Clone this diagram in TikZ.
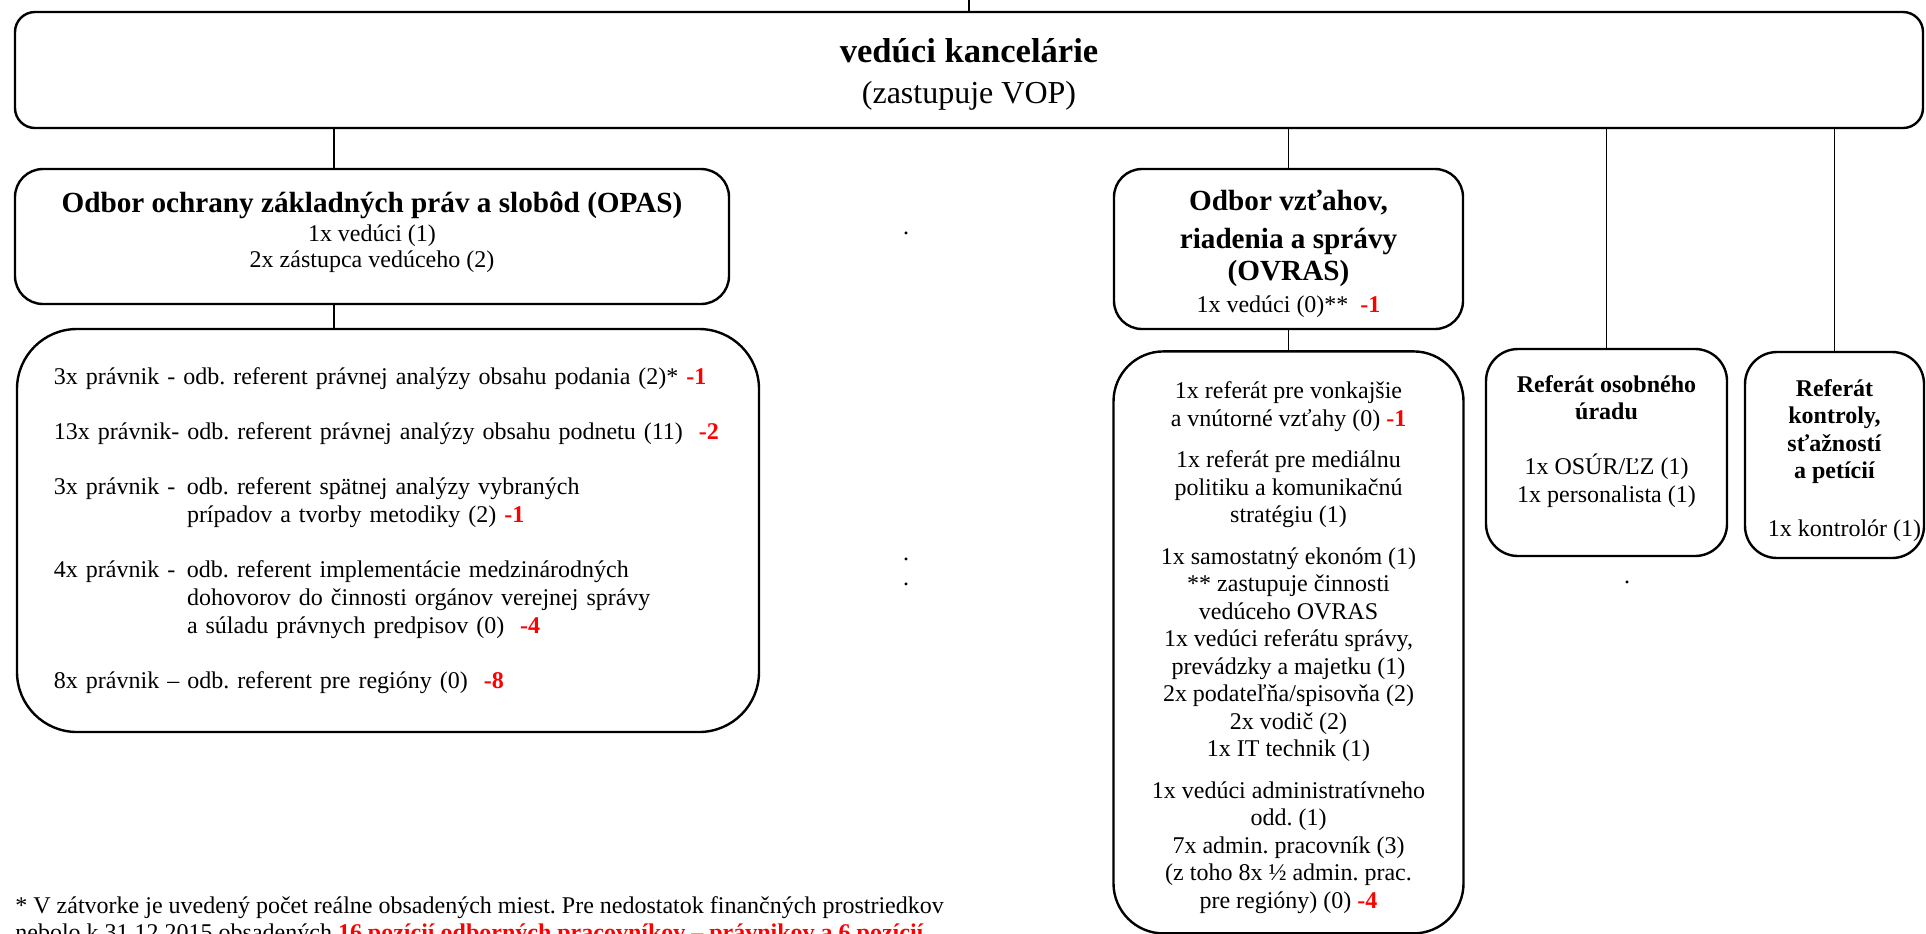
\documentclass[tikz,border=0pt]{standalone}
\usepackage{fontspec}
\setmainfont{Liberation Serif}
\usetikzlibrary{positioning}
\definecolor{Deficit}{HTML}{FF0000}
\definecolor{Ink}{HTML}{000000}
\newcommand{\deficit}[1]{\mbox{\textcolor{Deficit}{\textbf{#1}}}}
\newcommand{\lift}[1]{\rule{0pt}{#1}}
\newcommand{\sink}[1]{\rule[-#1]{0pt}{#1}}
\tikzset{
  headbox/.style={rectangle, rounded corners=10pt, minimum width=954pt,
    minimum height=58pt, align=center, draw=Ink, line width=1.2pt,
    inner sep=0pt, font=\fontsize{16}{18.5}\selectfont},
  deptbox/.style={rectangle, rounded corners=14pt, align=center, draw=Ink,
    line width=1.2pt, inner sep=0pt, font=\fontsize{12}{13}\selectfont},
  listbox/.style={rectangle, rounded corners=30pt, align=left, draw=Ink,
    line width=1.2pt, inner xsep=18.5pt, inner ysep=0pt,
    font=\fontsize{12}{13.85}\selectfont},
  refbox/.style={rectangle, rounded corners=16pt, align=center, draw=Ink,
    line width=1.2pt, inner sep=0pt, font=\fontsize{12}{13.75}\selectfont},
  link/.style={draw=Ink, line width=0.75pt},
  note/.style={align=left, inner sep=0pt, font=\fontsize{12}{13.75}\selectfont},
  stray/.style={inner sep=0pt, font=\fontsize{12}{13.75}\selectfont},
}

\begin{document}
\frenchspacing
\begin{tikzpicture}[x=0.5pt, y=-0.5pt, node distance=10pt]
  \useasboundingbox (0,0) rectangle (1926,933);

  \node (vop)      [headbox] at (969,70)
    {\lift{16pt}{\fontsize{17.3}{18.5}\selectfont\bfseries vedúci kancelárie}\\[2pt](zastupuje VOP)};
  \node (opas)     [deptbox, minimum width=357pt, minimum height=67.5pt] at (372,236.5)
    {{\fontsize{14.6}{16}\selectfont\bfseries Odbor ochrany základných práv a slobôd (OPAS)}\\[1.5pt]
     1x vedúci (1)\\2x zástupca vedúceho (2)\sink{7pt}};
  \node (pravnici) [listbox, text width=334pt, minimum height=201.5pt] at (388,530.5)
    {3x právnik - odb. referent právnej analýzy obsahu podania (2)* \deficit{-1}\\[13.75pt]
     13x právnik- odb. referent právnej analýzy obsahu podnetu (11)~~\deficit{-2}\\[13.75pt]
     \makebox[66.5pt][l]{3x právnik -}odb. referent spätnej analýzy vybraných\\
     \hspace*{66.5pt}prípadov a tvorby metodiky (2) \deficit{-1}\\[13.75pt]
     \makebox[66.5pt][l]{4x právnik -}odb. referent implementácie medzinárodných\\
     \hspace*{66.5pt}dohovorov do činnosti orgánov verejnej správy\\
     \hspace*{66.5pt}a súladu právnych predpisov (0)~~\deficit{-4}\\[13.75pt]
     8x právnik – odb. referent pre regióny (0)~~\deficit{-8}};
  \node (ovras)    [deptbox, minimum width=174.5pt, minimum height=80pt,
                    font=\fontsize{14.6}{16}\selectfont\bfseries] at (1288.5,249)
    {\lift{15pt}Odbor vzťahov,\\[3pt]riadenia a správy\\(OVRAS)\\
     {\fontsize{12}{13.75}\selectfont\mdseries 1x vedúci (0)**~~\deficit{-1}}};
  \node (ovrasref) [refbox, rounded corners=25pt, minimum width=175pt,
                    minimum height=291pt, below=of ovras]
    {\lift{13.5pt}1x referát pre vonkajšie\\a vnútorné vzťahy (0) \deficit{-1}\\[7pt]
     1x referát pre mediálnu\\politiku a komunikačnú\\stratégiu (1)\\[7pt]
     1x samostatný ekonóm (1)\\** zastupuje činnosti\\vedúceho OVRAS\\
     1x vedúci referátu správy,\\prevádzky a majetku (1)\\2x podateľňa/spisovňa (2)\\
     2x vodič (2)\\1x IT technik (1)\\[7pt]
     1x vedúci administratívneho\\odd. (1)\\7x admin. pracovník (3)\\
     (z toho 8x ½ admin. prac.\\pre regióny) (0) \deficit{-4}};
  \node (osob)     [refbox, minimum width=120.5pt, minimum height=103.5pt] at (1606.5,452.5)
    {\textbf{Referát osobného}\\\textbf{úradu}\\[13.75pt]
     1x OSÚR/ĽZ (1)\\1x personalista (1)\\\mbox{}};
  \node (kontr)    [refbox, minimum width=89.5pt, minimum height=103pt] at (1834.5,455)
    {\lift{14pt}\textbf{Referát}\\\textbf{kontroly,}\\\textbf{sťažností}\\\textbf{a petícií}\\[15pt]
     \hspace*{10pt}1x kontrolór (1)};
  \node (pozn)     [note, anchor=north west] at (15,896)
    {* V zátvorke je uvedený počet reálne obsadených miest. Pre nedostatok finančných prostriedkov\\
     nebolo k 31.12.2015 obsadených \textcolor{Deficit}{\textbf{16 pozícií odborných pracovníkov – právnikov a 6 pozícií}}};

  \node (bodka1) [stray, anchor=base] at (906,234) {.};
  \node (bodka2) [stray, anchor=base] at (906,560) {.};
  \node (bodka3) [stray, anchor=base] at (906,585) {.};
  \node (bodka4) [stray, anchor=base] at (1627,583) {.};

  \coordinate (vstup) at (969,0);
  \draw[link] (vstup) -- (vop.north);
  \draw[link] ([xshift=-19pt]opas.north) -- ([xshift=-19pt]opas.north |- vop.south);
  \draw[link] ([xshift=-19pt]opas.south) -- ([xshift=-19pt]opas.south |- pravnici.north);
  \draw[link] (ovras.north) -- (ovras.north |- vop.south);
  \draw[link] (ovras) -- (ovrasref);
  \draw[link] (osob.north) -- (osob.north |- vop.south);
  \draw[link] (kontr.north) -- (kontr.north |- vop.south);
\end{tikzpicture}
\end{document}
